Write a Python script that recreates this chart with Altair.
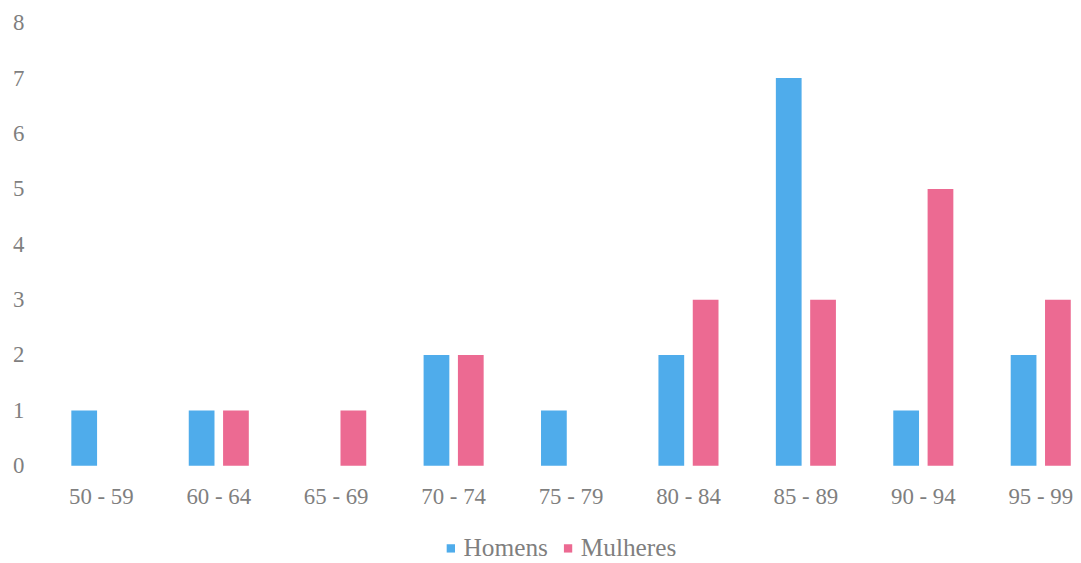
import altair as alt
import pandas as pd

categories = ["50 - 59", "60 - 64", "65 - 69", "70 - 74", "75 - 79", "80 - 84", "85 - 89", "90 - 94", "95 - 99"]
homens = [1, 1, 0, 2, 1, 2, 7, 1, 2]
mulheres = [0, 1, 1, 2, 0, 3, 3, 5, 3]
series = ["Homens", "Mulheres"]
colors = ["#4FACEB", "#EC6A92"]

rows = []
for c, h, m in zip(categories, homens, mulheres):
    rows.append({"faixa": c, "sexo": "Homens", "n": h})
    rows.append({"faixa": c, "sexo": "Mulheres", "n": m})
df = pd.DataFrame(rows)

FONT = "Liberation Serif"
GRAY = "#7f7f7f"

chart = alt.Chart(df).mark_bar().encode(
    x=alt.X("faixa:N", sort=categories, title=None,
            scale=alt.Scale(paddingInner=0.4885, paddingOuter=0.2686, range=[0, 1069.5]),
            axis=alt.Axis(labelAngle=0, domain=False, ticks=False, labelPadding=20,
                          labelFontSize=23, labelColor=GRAY)),
    xOffset=alt.XOffset("sexo:N", sort=series, scale=alt.Scale(paddingInner=0.25, paddingOuter=0)),
    y=alt.Y("n:Q", title=None,
            scale=alt.Scale(domain=[0, 8], nice=False),
            axis=alt.Axis(values=list(range(0, 9)), domain=False, ticks=False, grid=False,
                          labelPadding=16, labelFontSize=23, labelColor=GRAY)),
    color=alt.Color("sexo:N", sort=series,
                    scale=alt.Scale(domain=series, range=colors),
                    legend=alt.Legend(title=None, orient="none", direction="horizontal",
                                      legendX=398, legendY=516,
                                      symbolType="square", symbolSize=70, symbolStrokeWidth=0,
                                      symbolOffset=3,
                                      labelFontSize=25.5, labelColor=GRAY,
                                      columnPadding=4, labelOffset=0)),
).properties(
    width=1030, height=446,
    autosize=alt.AutoSizeParams(type="none"),
    padding={"left": 32, "top": 13, "right": 10, "bottom": 96},
).configure(font=FONT).configure_axis(labelFont=FONT).configure_legend(labelFont=FONT).configure_view(stroke=None)

chart.save("out.html", embed_options={"renderer": "svg", "actions": False})
